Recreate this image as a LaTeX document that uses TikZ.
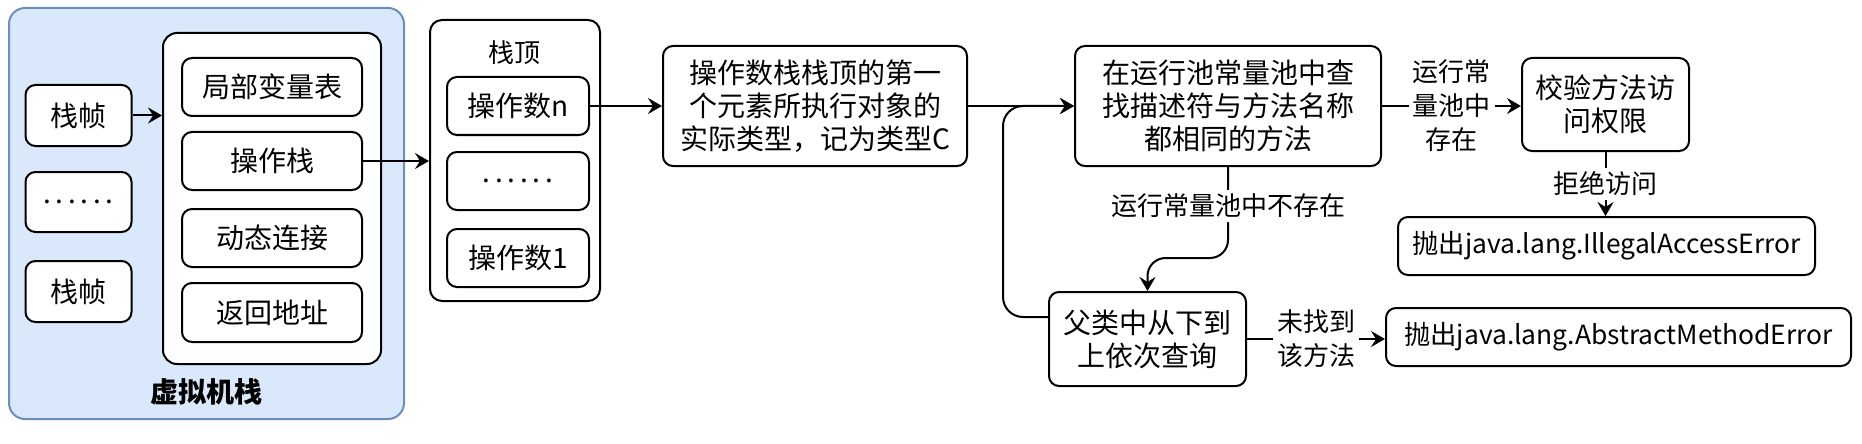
\documentclass[tikz,border=0pt]{standalone}
\usepackage{fontspec}
\setmainfont{Noto Sans CJK SC}
\usetikzlibrary{arrows.meta,calc}
\definecolor{vmfill}{HTML}{DAE8FC}
\definecolor{vmline}{HTML}{6C8EBF}
\tikzset{
  box/.style={draw, fill=white, line width=1pt, rounded corners=5pt, align=center, inner sep=0pt, font=\fontsize{14pt}{16.5pt}\selectfont},
  errbox/.style={box, font=\fontsize{13.2pt}{16pt}\selectfont},
  lbl/.style={fill=white, align=center, inner sep=2pt, font=\fontsize{13pt}{17pt}\selectfont},
  arr/.style={line width=1pt, -{Stealth[length=7pt,width=8pt,inset=2.5pt]}},
}
\begin{document}
\begin{tikzpicture}[x=0.5pt,y=0.5pt,yscale=-1,xscale=1]
\useasboundingbox (0,0) rectangle (1862,444);

%Shape: VM stack
\node[box, fill=vmfill, draw=vmline, rounded corners=8pt, minimum width=197.5pt, minimum height=205.5pt] (vms) at (206.5,213.5) {};
% Text Node
\node[font=\bfseries\fontsize{14pt}{16pt}\selectfont] (vmsname) at (206,392) {虚拟机栈};
%Shape: frames
\node[box, minimum width=53pt, minimum height=30.5pt] (frame1) at (78.5,115.5) {栈帧};
\node[box, minimum width=53pt, minimum height=30pt] (framedots) at (78.5,202) {.\,.\,.\,.\,.\,.};
\node[box, minimum width=53pt, minimum height=30.5pt] (frame2) at (78.5,291.5) {栈帧};
%Shape: current frame
\node[box, rounded corners=7pt, minimum width=109pt, minimum height=165.5pt] (frame) at (272,198.5) {};
\node[box, minimum width=90pt, minimum height=29pt] (lvt) at (272,87) {局部变量表};
\node[box, minimum width=90pt, minimum height=29pt] (ops) at (272,161) {操作栈};
\node[box, minimum width=90pt, minimum height=29pt] (dyn) at (272,238) {动态连接};
\node[box, minimum width=90pt, minimum height=29.5pt] (ret) at (272,312.5) {返回地址};
%Shape: operand stack
\node[box, rounded corners=6pt, minimum width=85pt, minimum height=140.5pt] (stack) at (515,160.5) {};
% Text Node
\node[font=\fontsize{13pt}{16pt}\selectfont] (stacktop) at (514,53) {栈顶};
\node[box, minimum width=71pt, minimum height=29pt] (opn) at (518,106) {操作数n};
\node[box, minimum width=71pt, minimum height=29pt] (opdots) at (518,181) {.\,.\,.\,.\,.\,.};
\node[box, minimum width=71pt, minimum height=29pt] (op1) at (518,258) {操作数1};
%Shape: lookup steps
\node[box, minimum width=152pt, minimum height=60pt] (typec) at (815,106) {操作数栈栈顶的第一\\个元素所执行对象的\\实际类型，记为类型C};
\node[box, minimum width=153pt, minimum height=60pt] (lookup) at (1228,106) {在运行池常量池中查\\找描述符与方法名称\\都相同的方法};
\node[box, minimum width=83.5pt, minimum height=46.5pt] (verify) at (1605.5,104.5) {校验方法访\\问权限};
\node[errbox, minimum width=208.5pt, minimum height=29pt] (iae) at (1606.5,246) {抛出java.lang.IllegalAccessError};
\node[box, minimum width=98.5pt, minimum height=47pt] (super) at (1147.5,339) {父类中从下到\\上依次查询};
\node[errbox, minimum width=232.5pt, minimum height=29pt] (ame) at (1618.5,337) {抛出java.lang.AbstractMethodError};

%Straight Lines
\draw[arr] (frame1.east) -- (frame1.east -| frame.west);
\draw[arr] (ops.east) -- (ops.east -| stack.west);
\draw[arr] (opn.east) -- (opn.east -| typec.west);
\draw[arr] (typec.east) -- (lookup.west);
\coordinate (loopcorner) at (1003,106);
\draw[arr, rounded corners=10pt] ($(super.west)+(0,-22)$) -| (loopcorner) -- (lookup.west);
\draw[arr] (lookup.east) -- node[lbl]{运行常\\量池中\\存在} (lookup.east -| verify.west);
\draw[arr, rounded corners=9pt] (lookup.south) -- node[lbl, pos=0.43]{运行常量池中不存在} ++(0,91) -| (super.north);
\draw[arr] (verify.south) -- node[lbl]{拒绝访问} (verify.south |- iae.north);
\draw[arr] (super.east) -- node[lbl]{未找到\\该方法} (super.east -| ame.west);

\end{tikzpicture}
\end{document}
